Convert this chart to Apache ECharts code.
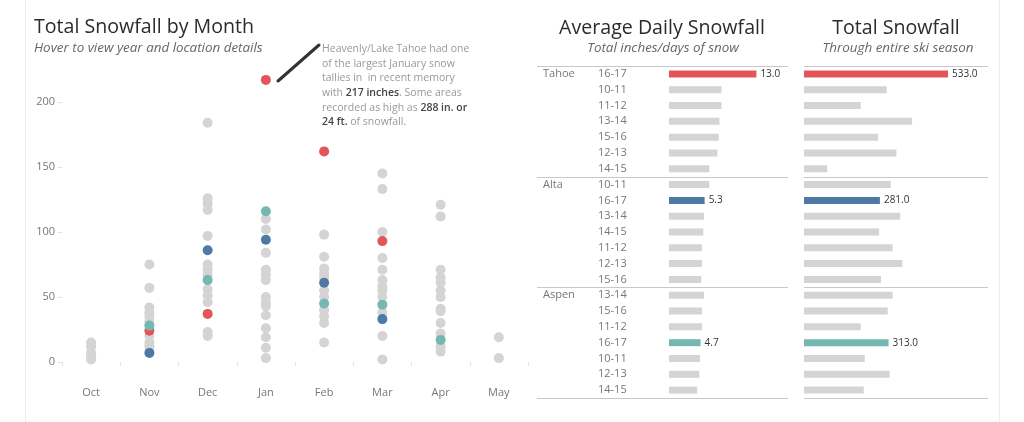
<!DOCTYPE html>
<html>
<head>
<meta charset="utf-8">
<script src="https://cdn.jsdelivr.net/npm/echarts/dist/echarts.min.js"></script>
<style>
  html, body { margin: 0; padding: 0; background: #fff; }
  #chart { width: 1024px; height: 422px; }
</style>
</head>
<body>
<div id="chart"></div>
<script>
// months on the scatter axis
const months = ['Oct', 'Nov', 'Dec', 'Jan', 'Feb', 'Mar', 'Apr', 'May'];

// grey dots: every other season, per month (inches)
const grayOct = [15, 12, 7, 5, 2];
const grayNov = [75, 57, 42, 38, 35, 31, 20, 15, 12];
const grayDec = [184, 126, 122, 117, 97, 75, 71, 67, 56, 51, 46, 23, 20];
const grayJan = [110, 102, 84, 71, 67, 63, 50, 46, 43, 36, 26, 19, 11, 3];
const grayFeb = [98, 81, 72, 68, 65, 55, 50, 40, 35, 30, 15];
const grayMar = [145, 133, 100, 80, 71, 63, 58, 55, 50, 38, 20, 2];
const grayApr = [121, 112, 71, 65, 61, 55, 50, 41, 39, 30, 22, 12, 8];
const grayMay = [19, 3];
const grayByMonth = [grayOct, grayNov, grayDec, grayJan, grayFeb, grayMar, grayApr, grayMay];

// 16-17 season, per month (null = no snow recorded)
const tahoeMonthly = [null, 24, 37, 217, 162, 93, null, null];
const altaMonthly = [null, 7, 86, 94, 61, 33, null, null];
const aspenMonthly = [null, 28, 63, 116, 45, 44, 17, null];

// bar tables
const locations = ['Tahoe', 'Alta', 'Aspen'];
const tahoeSeasons = ['16-17', '10-11', '11-12', '13-14', '15-16', '12-13', '14-15'];
const tahoeAvg = [13.0, 7.8, 7.8, 7.5, 7.4, 7.2, 6.0];
const tahoeTotal = [533, 306, 210, 400, 274, 342, 86];
const altaSeasons = ['10-11', '16-17', '13-14', '14-15', '11-12', '12-13', '15-16'];
const altaAvg = [6.0, 5.3, 5.2, 5.1, 4.9, 4.9, 4.8];
const altaTotal = [321, 281, 356, 278, 328, 364, 285];
const aspenSeasons = ['13-14', '15-16', '11-12', '16-17', '10-11', '12-13', '14-15'];
const aspenAvg = [5.2, 4.9, 4.9, 4.7, 4.6, 4.5, 4.2];
const aspenTotal = [328, 310, 210, 313, 225, 317, 221];

const highlightSeason = '16-17';

const colors = {
  Tahoe: '#e15759',
  Alta: '#4e79a7',
  Aspen: '#76b7b2',
  other: '#d4d4d4',
};
const font = '"Open Sans", "Noto Sans", sans-serif';

// flatten the tables into rows
const seasonsByLoc = [tahoeSeasons, altaSeasons, aspenSeasons];
const avgByLoc = [tahoeAvg, altaAvg, aspenAvg];
const totalByLoc = [tahoeTotal, altaTotal, aspenTotal];
const rows = [];
locations.forEach((loc, li) => {
  seasonsByLoc[li].forEach((season, si) => {
    rows.push({
      key: loc + '|' + season,
      loc,
      season,
      avg: avgByLoc[li][si],
      total: totalByLoc[li][si],
    });
  });
});
const rowKeys = rows.map((r) => r.key);

function barData(field) {
  return rows.map((r) => {
    const hot = r.season === highlightSeason;
    return {
      value: r[field],
      itemStyle: { color: hot ? colors[r.loc] : colors.other },
      label: { show: hot },
    };
  });
}

function monthlyData(arr) {
  const out = [];
  arr.forEach((v, i) => {
    if (v !== null) out.push([months[i], v]);
  });
  return out;
}

const grayData = [];
grayByMonth.forEach((list, i) => {
  list.forEach((v) => grayData.push([months[i], v]));
});

const chart = echarts.init(document.getElementById('chart'));

function dotSeries(name, data, color) {
  return {
    name,
    type: 'scatter',
    xAxisIndex: 0,
    yAxisIndex: 0,
    data,
    symbolSize: 10,
    clip: false,
    itemStyle: { color, opacity: 1 },
    z: color === colors.other ? 2 : 3,
  };
}

const annotation =
  '{n|Heavenly/Lake Tahoe had one}\n' +
  '{n|of the largest January snow}\n' +
  '{n|tallies in  in recent memory}\n' +
  '{n|with }{b|217 inches}{n|. Some areas}\n' +
  '{n|recorded as high as }{b|288 in. or}\n' +
  '{b|24 ft.}{n| of snowfall.}';

const option = {
  animation: false,
  textStyle: { fontFamily: font },
  grid: [
    { left: 62, right: 496, top: 63, bottom: 60 },
    { left: 669, right: 236, top: 66, bottom: 24 },
    { left: 804, right: 36, top: 66, bottom: 24 },
  ],
  xAxis: [
    {
      gridIndex: 0,
      type: 'category',
      data: months,
      offset: 19,
      axisLine: { show: false },
      axisTick: { show: true, length: 4, lineStyle: { color: '#e2e2e2' } },
      axisLabel: { color: '#777', fontSize: 11, margin: 6 },
    },
    { gridIndex: 1, type: 'value', min: 0, max: 17.7, show: false },
    { gridIndex: 2, type: 'value', min: 0, max: 681, show: false },
  ],
  yAxis: [
    {
      gridIndex: 0,
      type: 'value',
      min: 0,
      max: 230,
      interval: 50,
      splitLine: { show: false },
      axisLine: { show: false },
      axisTick: { show: true, length: 4, lineStyle: { color: '#e2e2e2' } },
      axisLabel: { color: '#777', fontSize: 11, margin: 7, showMaxLabel: false },
    },
    {
      gridIndex: 1,
      type: 'category',
      position: 'left',
      data: rowKeys,
      inverse: true,
      axisLine: { show: false },
      axisTick: { show: false },
      axisLabel: {
        interval: 0,
        align: 'left',
        margin: 71,
        color: '#777',
        fontSize: 11,
        formatter: (v) => v.split('|')[1],
      },
    },
    {
      gridIndex: 1,
      type: 'category',
      position: 'left',
      data: rowKeys,
      inverse: true,
      axisLine: { show: false },
      axisTick: { show: false },
      axisLabel: {
        interval: 0,
        align: 'left',
        margin: 126,
        color: '#777',
        fontSize: 11,
        formatter: (v, i) => (i % 7 === 0 ? v.split('|')[0] : ''),
      },
    },
    {
      gridIndex: 2,
      type: 'category',
      data: rowKeys,
      inverse: true,
      show: false,
    },
  ],
  series: [
    dotSeries('Other seasons', grayData, colors.other),
    dotSeries('Tahoe 16-17', monthlyData(tahoeMonthly), colors.Tahoe),
    dotSeries('Alta 16-17', monthlyData(altaMonthly), colors.Alta),
    dotSeries('Aspen 16-17', monthlyData(aspenMonthly), colors.Aspen),
    {
      name: 'Average Daily Snowfall',
      type: 'bar',
      xAxisIndex: 1,
      yAxisIndex: 1,
      barWidth: 7,
      data: barData('avg'),
      label: {
        position: 'right',
        distance: 4,
        color: '#333',
        fontSize: 10,
        formatter: (p) => p.value.toFixed(1),
      },
    },
    {
      name: 'Total Snowfall',
      type: 'bar',
      xAxisIndex: 2,
      yAxisIndex: 3,
      barWidth: 7,
      data: barData('total'),
      label: {
        position: 'right',
        distance: 4,
        color: '#333',
        fontSize: 10,
        formatter: (p) => p.value.toFixed(1),
      },
    },
  ],
  graphic: {
    elements: [
      // dashboard frame
      { id: 'frameL', type: 'line', shape: { x1: 25.5, y1: 0, x2: 25.5, y2: 422 }, style: { stroke: '#ededed', lineWidth: 1 } },
      { id: 'frameR', type: 'line', shape: { x1: 999.5, y1: 0, x2: 999.5, y2: 422 }, style: { stroke: '#ededed', lineWidth: 1 } },
      // titles
      { id: 't1', type: 'text', style: { text: 'Total Snowfall by Month', x: 34, y: 27, textVerticalAlign: 'middle', font: '19.6px ' + font, fill: '#2b2b2b' } },
      { id: 's1', type: 'text', style: { text: 'Hover to view year and location details', x: 34, y: 48, textVerticalAlign: 'middle', font: 'italic 13.4px ' + font, fill: '#666' } },
      { id: 't2', type: 'text', style: { text: 'Average Daily Snowfall', x: 662, y: 28, textAlign: 'center', textVerticalAlign: 'middle', font: '19.6px ' + font, fill: '#2b2b2b' } },
      { id: 's2', type: 'text', style: { text: 'Total inches/days of snow', x: 663, y: 48, textAlign: 'center', textVerticalAlign: 'middle', font: 'italic 13.4px ' + font, fill: '#666' } },
      { id: 't3', type: 'text', style: { text: 'Total Snowfall', x: 896, y: 28, textAlign: 'center', textVerticalAlign: 'middle', font: '19.6px ' + font, fill: '#2b2b2b' } },
      { id: 's3', type: 'text', style: { text: 'Through entire ski season', x: 898, y: 48, textAlign: 'center', textVerticalAlign: 'middle', font: 'italic 13.4px ' + font, fill: '#666' } },
      // annotation
      { id: 'callLine', type: 'line', shape: { x1: 278, y1: 81, x2: 319, y2: 45 }, style: { stroke: '#333', lineWidth: 3, lineCap: 'round' } },
      {
        id: 'callText',
        type: 'text',
        style: {
          text: annotation,
          x: 322,
          y: 42,
          textVerticalAlign: 'top',
          rich: {
            n: { fontSize: 10.5, fontFamily: font, fill: '#999', lineHeight: 14.6 },
            b: { fontSize: 10.5, fontFamily: font, fill: '#444', fontWeight: 600, lineHeight: 14.6 },
          },
        },
      },
    ],
  },
};
chart.setOption(option);

// row group separators, placed from the category axis
function addSeparators() {
  const c0 = chart.convertToPixel({ yAxisIndex: 1 }, rowKeys[0]);
  const c1 = chart.convertToPixel({ yAxisIndex: 1 }, rowKeys[1]);
  const band = c1 - c0;
  const els = [];
  [0, 7, 14, 21].forEach((k) => {
    const y = Math.round(c0 - band / 2 + k * band) + 0.5;
    els.push({ id: 'sepA' + k, type: 'line', shape: { x1: 537, y1: y, x2: 788, y2: y }, style: { stroke: '#c8c8c8', lineWidth: 1 } });
    els.push({ id: 'sepB' + k, type: 'line', shape: { x1: 804, y1: y, x2: 988, y2: y }, style: { stroke: '#c8c8c8', lineWidth: 1 } });
  });
  chart.setOption({ graphic: { elements: els } });
}
addSeparators();
</script>
</body>
</html>
